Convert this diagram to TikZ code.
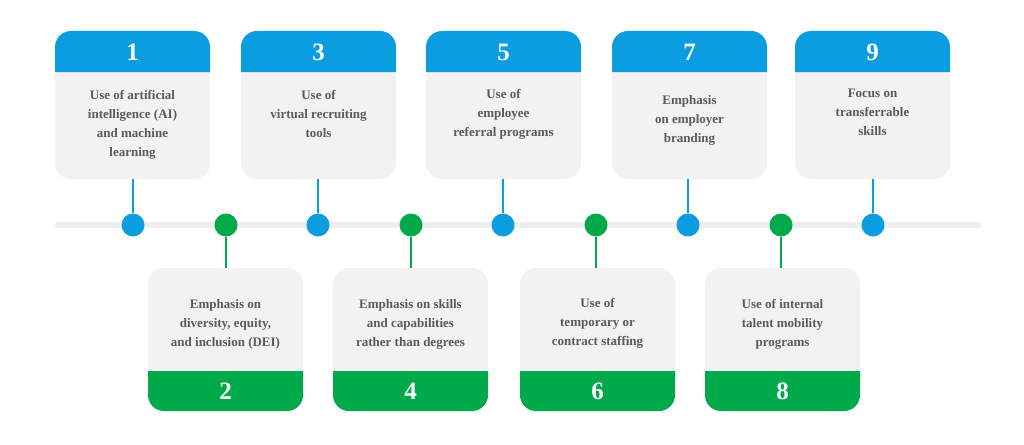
\documentclass[tikz,border=0pt]{standalone}
\usepackage{fontspec}
\setmainfont{Liberation Serif}
\definecolor{cblue}{HTML}{0A9DE0}
\definecolor{cgreen}{HTML}{00AA4A}
\definecolor{cgray}{HTML}{F2F2F2}
\definecolor{cline}{HTML}{EEEEEE}
\definecolor{ctext}{HTML}{5A5A5A}
\begin{document}
\begin{tikzpicture}[x=1pt,y=-1pt,
  txt/.style={text=ctext,font=\bfseries\fontsize{13}{19}\selectfont,align=center,anchor=north,inner sep=0},
  num/.style={text=white,font=\bfseries\fontsize{25}{25}\selectfont,inner sep=0},
  dot/.style={circle,minimum size=23,inner sep=0},
  box/.style={minimum width=155,minimum height=#1,inner sep=0}]
\useasboundingbox (0,0) rectangle (1024,444);
\fill[white] (0,0) rectangle (1024,444);
\draw[cline,line width=6,line cap=round] (58,225) -- (978,225);
\foreach \i/\x/\c/\n in {1/55/cblue/1,3/241/cblue/3,5/426/cblue/5,7/612/cblue/7,9/795/cblue/9}{
  \fill[cgray,rounded corners=16] (\x,31) rectangle ++(155,148);
  \fill[\c] (\x,72) [rounded corners=16]-- (\x,31) -- (\x+155,31) [sharp corners]-- (\x+155,72) -- cycle;
  \node[box=148] (c\i) at (\x+77.5,105) {};
  \node[num] at (\x+77.5,52) {\n};
}
\foreach \i/\x/\n in {2/148/2,4/333/4,6/520/6,8/705/8}{
  \fill[cgray,rounded corners=16] (\x,268) rectangle ++(155,143);
  \fill[cgreen] (\x,371) [rounded corners=16]-- (\x,411) -- (\x+155,411) [sharp corners]-- (\x+155,371) -- cycle;
  \node[box=143] (c\i) at (\x+77.5,339.5) {};
  \node[num] at (\x+77.5,391) {\n};
}
\node[txt] at (132.5,90) {Use of artificial\\intelligence (AI)\\and machine\\learning};
\node[txt] at (318.5,90) {Use of\\virtual recruiting\\tools};
\node[txt] at (503.5,89) {Use of\\employee\\referral programs};
\node[txt] at (689.5,95) {Emphasis\\on employer\\branding};
\node[txt] at (872.5,89) {Focus on\\transferrable\\skills};
\node[txt] at (225.5,299) {Emphasis on\\diversity, equity,\\and inclusion (DEI)};
\node[txt] at (410.5,299) {Emphasis on skills\\and capabilities\\rather than degrees};
\node[txt] at (597.5,298) {Use of\\temporary or\\contract staffing};
\node[txt] at (782.5,299) {Use of internal\\talent mobility\\programs};
\foreach \i/\x in {1/133,3/318,5/503,7/688,9/873}{
  \node[dot,fill=cblue] (d\i) at (\x,225) {};
  \draw[cblue,line width=2.5] (c\i.south -| d\i) -- (d\i);
}
\foreach \i/\x in {2/226,4/411,6/596,8/781}{
  \node[dot,fill=cgreen] (d\i) at (\x,225) {};
  \draw[cgreen,line width=2.5] (d\i) -- (c\i.north -| d\i);
}
\end{tikzpicture}
\end{document}
